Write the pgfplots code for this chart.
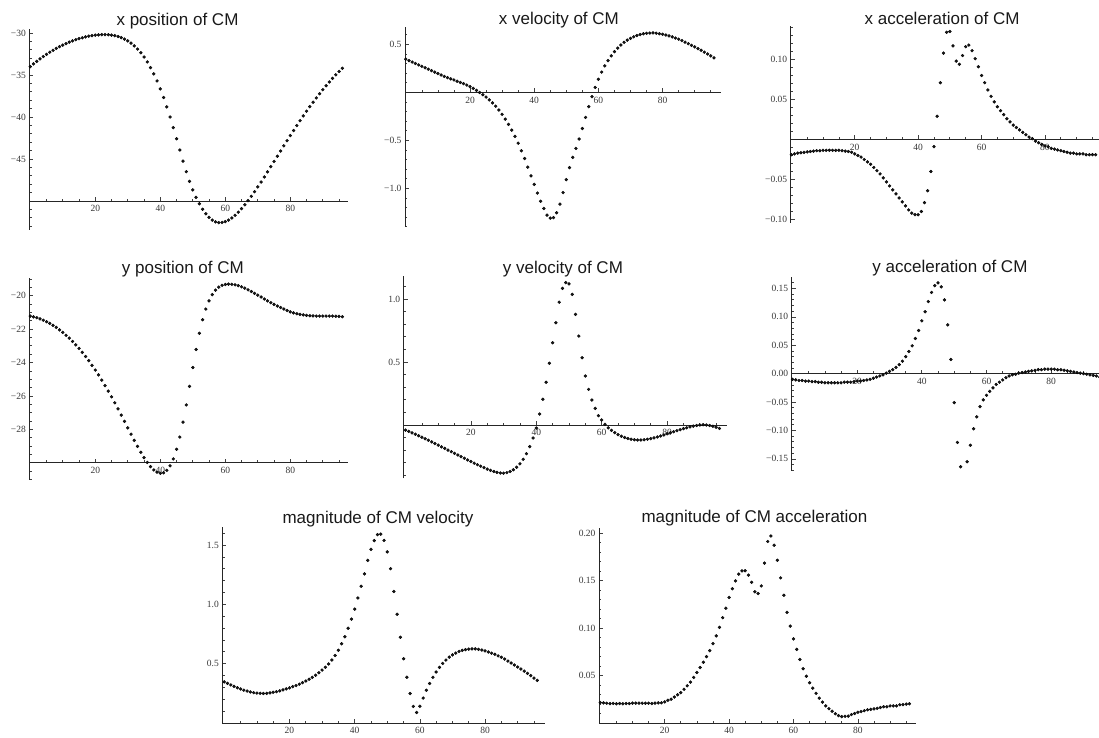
\documentclass[border=0pt]{standalone}
\usepackage{pgfplots}
\pgfplotsset{compat=1.18}
\usepackage{pgfplotstable}
\usepackage{fontspec}
\setmainfont{Liberation Serif}
\newfontfamily\titlef{Liberation Sans}

\pgfplotstableread{
x xp vx ax yp vy ay vm am
0 -34.00 0.345 -0.019 -21.22 -0.040 -0.010 0.347 0.0215
1 -33.68 0.330 -0.018 -21.27 -0.051 -0.011 0.334 0.0211
2 -33.37 0.315 -0.017 -21.32 -0.062 -0.012 0.321 0.0208
3 -33.08 0.300 -0.0165 -21.39 -0.073 -0.012 0.309 0.0204
4 -32.80 0.285 -0.016 -21.47 -0.085 -0.013 0.297 0.0206
5 -32.54 0.270 -0.0155 -21.56 -0.097 -0.013 0.287 0.0202
6 -32.29 0.255 -0.015 -21.66 -0.109 -0.014 0.277 0.0205
7 -32.06 0.240 -0.0145 -21.78 -0.121 -0.014 0.269 0.0202
8 -31.84 0.225 -0.014 -21.90 -0.134 -0.015 0.262 0.0205
9 -31.63 0.210 -0.014 -22.05 -0.147 -0.015 0.256 0.0205
10 -31.44 0.195 -0.0135 -22.20 -0.160 -0.016 0.252 0.0209
11 -31.26 0.180 -0.0135 -22.37 -0.173 -0.016 0.250 0.0209
12 -31.09 0.165 -0.0135 -22.54 -0.186 -0.016 0.249 0.0209
13 -30.94 0.152 -0.0135 -22.74 -0.199 -0.016 0.250 0.0209
14 -30.80 0.140 -0.0135 -22.94 -0.212 -0.016 0.254 0.0209
15 -30.68 0.128 -0.0135 -23.16 -0.225 -0.016 0.259 0.0209
16 -30.57 0.115 -0.014 -23.39 -0.238 -0.015 0.264 0.0205
17 -30.47 0.102 -0.0145 -23.64 -0.251 -0.015 0.271 0.0209
18 -30.38 0.090 -0.015 -23.89 -0.264 -0.015 0.279 0.0212
19 -30.31 0.075 -0.016 -24.17 -0.277 -0.014 0.287 0.0213
20 -30.26 0.058 -0.018 -24.45 -0.290 -0.013 0.296 0.0222
21 -30.22 0.040 -0.020 -24.74 -0.303 -0.013 0.306 0.0239
22 -30.20 0.020 -0.022 -25.05 -0.315 -0.012 0.316 0.0251
23 -30.20 -0.002 -0.025 -25.38 -0.327 -0.011 0.327 0.0273
24 -30.21 -0.025 -0.028 -25.71 -0.339 -0.010 0.340 0.0297
25 -30.25 -0.050 -0.031 -26.05 -0.350 -0.008 0.354 0.0320
26 -30.32 -0.080 -0.035 -26.41 -0.360 -0.006 0.369 0.0355
27 -30.42 -0.110 -0.039 -26.77 -0.369 -0.004 0.385 0.0392
28 -30.55 -0.145 -0.043 -27.15 -0.376 -0.002 0.403 0.0431
29 -30.73 -0.185 -0.048 -27.52 -0.381 0.001 0.424 0.0480
30 -30.94 -0.230 -0.053 -27.91 -0.382 0.004 0.446 0.0532
31 -31.21 -0.280 -0.058 -28.29 -0.378 0.007 0.470 0.0584
32 -31.53 -0.335 -0.063 -28.66 -0.369 0.011 0.498 0.0640
33 -31.91 -0.395 -0.068 -29.02 -0.355 0.016 0.531 0.0699
34 -32.35 -0.460 -0.073 -29.37 -0.335 0.022 0.569 0.0762
35 -32.86 -0.530 -0.078 -29.69 -0.308 0.030 0.613 0.0836
36 -33.45 -0.610 -0.083 -29.98 -0.272 0.039 0.668 0.0917
37 -34.12 -0.690 -0.088 -30.23 -0.228 0.049 0.727 0.1007
38 -34.87 -0.780 -0.092 -30.43 -0.172 0.062 0.799 0.1109
39 -35.71 -0.870 -0.094 -30.56 -0.103 0.076 0.876 0.1209
40 -36.65 -0.960 -0.094 -30.63 -0.024 0.093 0.960 0.1322
41 -37.68 -1.050 -0.090 -30.60 0.087 0.109 1.054 0.1414
42 -38.80 -1.135 -0.079 -30.45 0.204 0.127 1.153 0.1496
43 -40.00 -1.210 -0.064 -30.18 0.339 0.143 1.257 0.1567
44 -41.27 -1.280 -0.040 -29.77 0.490 0.155 1.371 0.1601
45 -42.59 -1.310 -0.009 -29.19 0.653 0.160 1.464 0.1603
46 -43.93 -1.305 0.029 -28.46 0.812 0.153 1.537 0.1557
47 -45.25 -1.255 0.071 -27.57 0.975 0.130 1.589 0.1481
48 -46.51 -1.165 0.108 -26.54 1.085 0.086 1.592 0.1381
49 -47.66 -1.045 0.134 -25.43 1.130 0.025 1.539 0.1363
50 -48.68 -0.910 0.135 -24.30 1.120 -0.051 1.443 0.1443
51 -49.57 -0.785 0.117 -23.22 1.037 -0.121 1.301 0.1683
52 -50.33 -0.678 0.098 -22.25 0.878 -0.164 1.109 0.1911
53 -50.98 -0.585 0.094 -21.44 0.706 nan 0.917 0.1969
54 -51.52 -0.487 0.105 -20.80 0.534 -0.155 0.723 0.1872
55 -51.95 -0.378 0.116 -20.31 0.389 -0.126 0.542 0.1713
56 -52.27 -0.262 0.118 -19.94 0.283 -0.097 0.386 0.1528
57 -52.48 -0.150 0.111 -19.67 0.198 -0.076 0.248 0.1345
58 -52.57 -0.045 0.101 -19.49 0.132 -0.058 0.140 0.1165
59 -52.55 0.050 0.091 -19.38 0.074 -0.046 0.089 0.1020
60 -52.45 0.135 0.080 -19.33 0.040 -0.038 0.141 0.0886
61 -52.27 0.210 0.071 -19.31 0.005 -0.031 0.210 0.0775
62 -52.02 0.275 0.062 -19.32 -0.022 -0.025 0.276 0.0669
63 -51.70 0.330 0.054 -19.35 -0.043 -0.019 0.333 0.0572
64 -51.33 0.380 0.047 -19.40 -0.061 -0.015 0.385 0.0493
65 -50.91 0.423 0.041 -19.47 -0.076 -0.011 0.430 0.0424
66 -50.45 0.460 0.036 -19.55 -0.089 -0.007 0.469 0.0367
67 -49.96 0.492 0.031 -19.65 -0.099 -0.004 0.502 0.0313
68 -49.44 0.520 0.026 -19.75 -0.107 -0.002 0.531 0.0261
69 -48.89 0.543 0.022 -19.86 -0.113 -0.001 0.555 0.0220
70 -48.32 0.562 0.018 -19.97 -0.117 0.001 0.574 0.0180
71 -47.74 0.578 0.015 -20.08 -0.119 0.002 0.590 0.0151
72 -47.14 0.591 0.012 -20.20 -0.119 0.003 0.603 0.0124
73 -46.53 0.601 0.009 -20.31 -0.117 0.004 0.612 0.0098
74 -45.91 0.609 0.006 -20.42 -0.113 0.005 0.619 0.0078
75 -45.29 0.614 0.003 -20.52 -0.108 0.006 0.623 0.0067
76 -44.67 0.617 0.001 -20.62 -0.102 0.007 0.625 0.0071
77 -44.05 0.618 -0.002 -20.71 -0.095 0.007 0.625 0.0073
78 -43.43 0.615 -0.004 -20.80 -0.087 0.008 0.621 0.0089
79 -42.82 0.610 -0.006 -20.89 -0.079 0.008 0.615 0.0100
80 -42.21 0.604 -0.008 -20.97 -0.070 0.008 0.608 0.0113
81 -41.61 0.596 -0.009 -21.03 -0.061 0.008 0.599 0.0120
82 -41.02 0.587 -0.011 -21.08 -0.053 0.007 0.589 0.0130
83 -40.44 0.577 -0.012 -21.12 -0.045 0.007 0.579 0.0139
84 -39.87 0.565 -0.013 -21.15 -0.037 0.006 0.566 0.0143
85 -39.31 0.553 -0.014 -21.18 -0.029 0.005 0.554 0.0149
86 -38.77 0.538 -0.015 -21.20 -0.022 0.004 0.539 0.0155
87 -38.24 0.522 -0.016 -21.21 -0.015 0.003 0.522 0.0163
88 -37.73 0.506 -0.017 -21.22 -0.009 0.002 0.506 0.0171
89 -37.23 0.489 -0.017 -21.22 -0.004 0.001 0.489 0.0170
90 -36.75 0.472 -0.018 -21.22 0.000 0.000 0.472 0.0180
91 -36.28 0.455 -0.018 -21.22 0.002 -0.001 0.455 0.0180
92 -35.83 0.437 -0.018 -21.22 0.000 -0.002 0.437 0.0181
93 -35.40 0.418 -0.019 -21.22 -0.004 -0.003 0.418 0.0192
94 -34.98 0.399 -0.019 -21.23 -0.010 -0.004 0.399 0.0194
95 -34.58 0.379 -0.019 -21.24 -0.018 -0.006 0.379 0.0199
96 -34.20 0.359 -0.019 -21.26 -0.027 -0.007 0.360 0.0202
}\data

\pgfplotsset{
  mma/.style={
    scale only axis,
    anchor=south west,
    axis x line=bottom,
    axis y line=left,
    axis line style={-, black!85, line width=0.7pt},
    tick align=inside,
    major tick length=4pt,
    minor tick length=2.3pt,
    every tick/.style={black!75, line width=0.7pt},
    tick label style={font=\fontsize{9.5}{10}\selectfont, text=black!78},
    xtick={20,40,60,80},
    xticklabels={20,40,60,80},
    minor xtick={5,10,15,25,30,35,45,50,55,65,70,75,85,90,95},
    xticklabel style={yshift=-1pt},
    clip=false,
  },
  pts/.style={only marks, mark=*, mark size=1.45pt, mark options={draw=none, fill=black!90}},
}
\newcommand{\ttl}[3]{\node[anchor=base, yshift=#2pt, font=\titlef\fontsize{17}{20}\selectfont, text=black!90] at (rel axis cs:#1,1) {#3};}

\begin{document}
\begin{tikzpicture}
\useasboundingbox (0,0) rectangle (1099pt,738pt);

% x position
\begin{axis}[mma, at={(29.3pt,508pt)}, width=318.7pt, height=200.7pt,
  xmin=-0.3, xmax=97.75, ymin=-53.45, ymax=-29.56, axis x line shift=-29pt,
  ytick={-45,-40,-35,-30}, yticklabels={−45,−40,−35,−30}, minor ytick={-53,-52,...,-30}]
\addplot[pts] table[x=x,y=xp]{\data};
\ttl{0.465}{3.6}{x position of CM}
\end{axis}

% x velocity
\begin{axis}[mma, at={(405pt,511.3pt)}, width=316pt, height=200pt,
  xmin=-0.25, xmax=98.19, ymin=-1.40, ymax=0.683, axis x line shift=-134.4pt,
  ytick={-1,-0.5,0.5}, yticklabels={−1.0,−0.5,0.5}, minor ytick={-1.4,-1.3,...,0.6}]
\addplot[pts] table[x=x,y=vx]{\data};
\ttl{0.487}{1.7}{x velocity of CM}
\end{axis}

% x acceleration
\begin{axis}[mma, at={(790.7pt,515.3pt)}, width=308.3pt, height=196.7pt,
  xmin=-0.2, xmax=97.06, ymin=-0.104, ymax=0.1419, axis x line shift=-83.2pt,
  ytick={-0.1,-0.05,0.05,0.1}, yticklabels={−0.10,−0.05,0.05,0.10}, minor ytick={-0.1,-0.09,...,0.14}]
\addplot[pts] table[x=x,y=ax]{\data};
\ttl{0.491}{1.7}{x acceleration of CM}
\end{axis}

% y position
\begin{axis}[mma, at={(29.3pt,258pt)}, width=318.7pt, height=201.7pt,
  xmin=-0.3, xmax=97.75, ymin=-31.03, ymax=-18.96, axis x line shift=-17.25pt,
  ytick={-28,-26,-24,-22,-20}, yticklabels={−28,−26,−24,−22,−20}, minor ytick={-31,-30.5,...,-19}]
\addplot[pts] table[x=x,y=yp]{\data};
\ttl{0.482}{5}{y position of CM}
\end{axis}

% y velocity
\begin{axis}[mma, at={(403.7pt,259.7pt)}, width=323pt, height=202.3pt,
  xmin=-0.55, xmax=98.23, ymin=-0.423, ymax=1.183, axis x line shift=-53.3pt,
  ytick={0.5,1}, yticklabels={0.5,1.0}, minor ytick={-0.4,-0.3,...,1.1}]
\addplot[pts] table[x=x,y=vy]{\data};
\ttl{0.493}{2.7}{y velocity of CM}
\end{axis}

% y acceleration
\begin{axis}[mma, at={(791.7pt,267.3pt)}, width=307.3pt, height=193.4pt,
  xmin=-0.25, xmax=94.8, ymin=-0.1708, ymax=0.1697, axis x line shift=-97pt,
  ytick={-0.15,-0.1,-0.05,0,0.05,0.1,0.15}, yticklabels={−0.15,−0.10,−0.05,0.00,0.05,0.10,0.15},
  minor ytick={-0.17,-0.16,...,0.16}]
\addplot[pts] table[x=x,y=ay]{\data};
\ttl{0.515}{4.6}{y acceleration of CM}
\end{axis}

% magnitude of velocity
\begin{axis}[mma, at={(222.3pt,15pt)}, width=322.7pt, height=195.7pt,
  xmin=-0.61, xmax=98.38, ymin=0, ymax=1.65,
  ytick={0.5,1,1.5}, yticklabels={0.5,1.0,1.5}, minor ytick={0.1,0.2,...,1.6}]
\addplot[pts] table[x=x,y=vm]{\data};
\ttl{0.4825}{4}{magnitude of CM velocity}
\end{axis}

% magnitude of acceleration
\begin{axis}[mma, at={(599pt,15pt)}, width=317pt, height=194.7pt,
  xmin=-0.4, xmax=98.05, ymin=0, ymax=0.205,
  ytick={0.05,0.1,0.15,0.2}, yticklabels={0.05,0.10,0.15,0.20}, minor ytick={0.01,0.02,...,0.2}]
\addplot[pts] table[x=x,y=am]{\data};
\ttl{0.4905}{5.6}{magnitude of CM acceleration}
\end{axis}
\end{tikzpicture}
\end{document}
